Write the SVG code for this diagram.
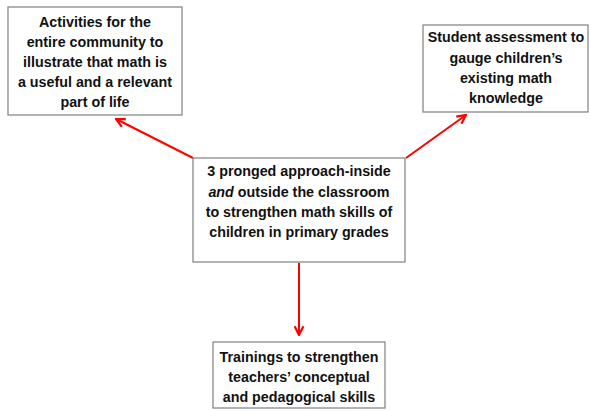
<svg xmlns="http://www.w3.org/2000/svg" width="590" height="411" viewBox="0 0 590 411">
<style>
.box{fill:#fff;stroke:#7f7f7f;stroke-width:1.2}
.t{font-family:"Liberation Sans",Arial,sans-serif;font-weight:bold;font-size:14.3px;fill:#111;text-anchor:middle}
.c{stroke:#ff0000;stroke-width:2;fill:none;marker-end:url(#ah)}
</style>
<defs>
<marker id="ah" viewBox="0 0 10 10" refX="9" refY="5" markerWidth="5.5" markerHeight="5.5" orient="auto" markerUnits="strokeWidth">
<path d="M1,1 L9,5 L1,9" fill="none" stroke="#ff0000" stroke-width="2"/>
</marker>
</defs>
<g id="connectors">
<line class="c" x1="193" y1="158" x2="116" y2="119"/>
<line class="c" x1="406" y1="158" x2="466" y2="115"/>
<line class="c" x1="299" y1="263" x2="299" y2="335"/>
</g>
<g id="community">
<rect class="box" x="8" y="7" width="174" height="108"/>
<text class="t" x="95" y="27">Activities for the</text>
<text class="t" x="95" y="47">entire community to</text>
<text class="t" x="95" y="67">illustrate that math is</text>
<text class="t" x="95" y="87">a useful and a relevant</text>
<text class="t" x="95" y="107">part of life</text>
</g>
<g id="assessment">
<rect class="box" x="423" y="25" width="165" height="87"/>
<text class="t" x="506" y="42">Student assessment to</text>
<text class="t" x="506" y="63">gauge children’s</text>
<text class="t" x="506" y="83">existing math</text>
<text class="t" x="506" y="103">knowledge</text>
</g>
<g id="approach">
<rect class="box" x="193" y="158" width="212" height="104"/>
<text class="t" x="299" y="176">3 pronged approach-inside</text>
<text class="t" x="299" y="197"><tspan font-style="italic">and</tspan> outside the classroom</text>
<text class="t" x="299" y="217">to strengthen math skills of</text>
<text class="t" x="299" y="237">children in primary grades</text>
</g>
<g id="trainings">
<rect class="box" x="213" y="342" width="172" height="66"/>
<text class="t" x="299" y="362">Trainings to strengthen</text>
<text class="t" x="299" y="382">teachers’ conceptual</text>
<text class="t" x="299" y="402">and pedagogical skills</text>
</g>
</svg>
